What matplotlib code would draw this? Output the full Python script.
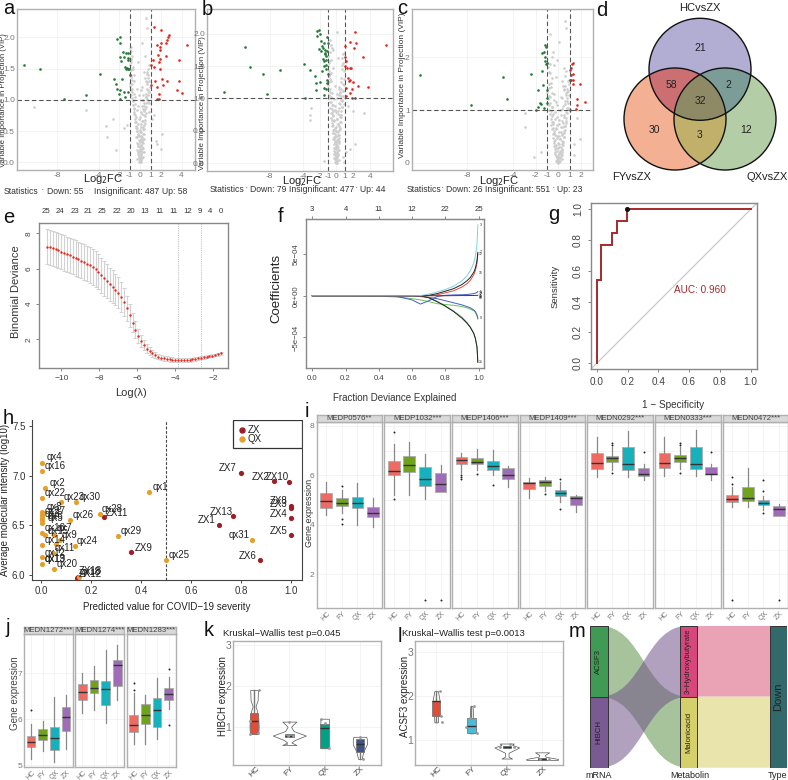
import matplotlib
matplotlib.use("Agg")
import matplotlib.pyplot as plt
import numpy as np
from matplotlib.patches import Circle, PathPatch, Polygon, Rectangle
from matplotlib.path import Path

plt.rcParams["font.family"] = ["Liberation Sans", "DejaVu Sans"]
plt.rcParams["axes.unicode_minus"] = False

W, H = 788, 780
fig = plt.figure(figsize=(W / 100, H / 100), dpi=100)

# ---- volcano data ----
down_a_x = [-11.2, -9.66, -3.86, -5.25, -7.4, -2.25, -1.93, -1.93, -1.67, -1.35, -1.13, -1.93, -1.55, -1.22, -1.87, -1.13, -1.45, -1.29, -1.13, -1.35, -1.03, -2.5, -1.77, -2.38, -1.0, -2.25, -1.93, -1.55, -1.22, -2.0, -1.45, -1.93]
down_a_y = [1.55, 1.49, 1.42, 1.08, 1.01, 1.97, 2.0, 1.91, 1.77, 1.75, 1.74, 1.69, 1.68, 1.66, 1.62, 1.64, 1.53, 1.51, 1.5, 1.49, 1.49, 1.34, 1.34, 1.26, 1.4, 1.18, 1.15, 1.13, 1.12, 1.09, 1.04, 1.01]
up_a_x = [1.38, 2.06, 2.74, 2.67, 2.58, 2.48, 2.0, 1.87, 1.6, 4.5, 1.87, 1.74, 2.48, 1.2, 1.87, 1.8, 3.77, 1.06, 1.29, 1.87, 1.42, 2.13, 2.58, 3.77, 1.03, 2.25, 1.6, 3.54, 4.0, 1.8, 1.6, 1.8]
up_a_y = [2.17, 2.11, 2.04, 2.0, 1.96, 1.91, 1.91, 1.85, 1.88, 1.87, 1.8, 1.72, 1.7, 1.64, 1.65, 1.6, 1.63, 1.56, 1.53, 1.49, 1.3, 1.34, 1.3, 1.3, 1.24, 1.24, 1.21, 1.15, 1.11, 1.09, 1.01, 1.01]
grey_a_x = [-10.3, -5.2, -2.6, -3.3, -3.2, -2.3, 2.0, 2.1, 1.5, 0.6, 0.7, 0.2, -0.1, 0.05, -0.05, 0.02, 0.1, -0.12, 0.0, 0.15, -0.08, 0.06, -0.15, 0.12, -0.03, 0.09, -0.2, 0.18, 0.03, -0.1, 0.22, -0.06, 0.0, 0.14, -0.18, 0.08, -0.25, 0.25, -0.02, 0.16, -0.14, 0.28, 0.05, -0.3, 0.2, -0.08, 0.32, -0.22, 0.12, -0.35, 0.02, 0.38, -0.28, 0.24, -0.42, 0.1, 0.45, -0.38, 0.3, -0.5, 0.0, 0.5, -0.45, 0.18, -0.55, 0.36, -0.62, 0.6, -0.2, -0.7, 0.42, 0.72, -0.66, 0.15, -0.78, 0.55, -0.85, 0.3, -0.6, 0.85, -0.9, 0.1, -0.75, 0.95, -0.95, 0.7, -1.0, 0.58, -0.82, 0.48, -0.92, 0.78, -0.96, 0.66, -0.88, 0.75, -0.7, 0.9, -0.98, 0.62, -0.86, 0.8, -0.93, 0.68, -0.76, 0.88, -1.0, 0.52, -0.9, 0.82, -0.97, 0.4, -0.84, -0.8, 0.25, -0.6, 1.3, -1.3, 1.6, 0.9, 1.1, -1.6]
grey_a_y = [0.88, 0.83, 0.7, 0.58, 0.41, 0.2, 0.22, 0.45, 0.35, 2.3, 2.15, 1.9, 0.0, 0.01, 0.02, 0.03, 0.04, 0.05, 0.06, 0.07, 0.08, 0.09, 0.11, 0.12, 0.13, 0.14, 0.16, 0.17, 0.18, 0.19, 0.21, 0.22, 0.24, 0.25, 0.27, 0.28, 0.3, 0.31, 0.33, 0.34, 0.36, 0.37, 0.38, 0.4, 0.41, 0.43, 0.45, 0.46, 0.48, 0.5, 0.52, 0.54, 0.55, 0.57, 0.59, 0.61, 0.63, 0.65, 0.67, 0.7, 0.72, 0.74, 0.76, 0.78, 0.8, 0.82, 0.85, 0.88, 0.9, 0.92, 0.95, 0.97, 1.0, 1.0, 1.03, 1.05, 1.07, 1.08, 1.1, 1.12, 1.15, 1.15, 1.18, 1.2, 1.22, 1.25, 1.27, 1.3, 1.32, 1.35, 1.37, 1.4, 1.42, 1.45, 1.47, 1.5, 1.52, 1.3, 1.55, 1.42, 1.6, 1.08, 1.65, 1.18, 1.7, 1.12, 1.75, 1.05, 1.78, 0.95, 1.82, 0.9, 1.85, 1.5, 0.85, 1.4, 0.75, 0.6, 0.3, 0.8, 0.7, 0.55]
column_a_x = [-0.3, 0.26, -0.2, 0.33, 0.1, -0.34, 0.28, -0.16, 0.04, -0.26, 0.2, -0.05, 0.36, -0.4, 0.13, -0.22, 0.42, 0.0, -0.33, 0.27, -0.44, 0.08, 0.4, -0.18, -0.5, 0.22, 0.48, -0.12, -0.38, 0.34, -0.56, 0.55, 0.06, -0.28, 0.44, -0.62, 0.16, -0.46, 0.58, -0.7, 0.3, 0.66, -0.54, -0.14, 0.52, -0.76, 0.74, -0.35, 0.2, -0.82, 0.62, -0.6, 0.8, -0.9, 0.35, -0.68, 0.86, -0.24, -0.84, 0.46]
column_a_y = [0.06, 0.09, 0.13, 0.16, 0.18, 0.2, 0.23, 0.26, 0.28, 0.31, 0.33, 0.35, 0.37, 0.4, 0.42, 0.44, 0.46, 0.48, 0.5, 0.53, 0.55, 0.57, 0.6, 0.62, 0.64, 0.66, 0.68, 0.7, 0.72, 0.75, 0.77, 0.79, 0.8, 0.83, 0.85, 0.87, 0.9, 0.93, 0.95, 0.98, 1.0, 1.02, 1.05, 1.08, 1.1, 1.12, 1.15, 1.18, 1.2, 1.25, 1.28, 1.3, 1.35, 1.4, 1.45, 1.5, 1.55, 1.6, 1.65, 1.7]

down_b_x = [-13.5, -11.0, -10.3, -8.84, -8.28, -6.8, -3.92, -3.72, -3.12, -2.52, -2.4, -2.3, -2.08, -2.0, -2.3, -1.8, -1.5, -2.08, -1.68, -1.4, -1.12, -1.8, -1.4, -1.2, -1.6, -1.28, -1.12, -1.0, -1.52, -1.68, -1.28, -1.08, -1.08, -1.92, -1.52, -1.2, -2.4, -1.52, -1.0, -1.3, -1.45, -1.62, -1.2]
down_b_y = [1.1, 1.8, 1.49, 1.37, 1.07, 1.44, 1.53, 1.01, 1.44, 1.35, 1.24, 2.04, 2.05, 1.99, 1.97, 1.89, 1.86, 1.77, 1.81, 1.75, 1.73, 1.73, 1.7, 1.65, 1.61, 1.6, 1.95, 1.86, 1.5, 1.43, 1.52, 1.29, 1.24, 1.25, 1.16, 1.14, 1.13, 1.06, 1.37, 1.68, 1.58, 1.78, 1.45]
up_b_x = [6.0, 2.28, 1.6, 2.4, 2.12, 1.08, 3.2, 1.08, 1.2, 1.08, 1.6, 1.8, 1.28, 1.4, 1.6, 2.0, 1.48, 2.6, 3.8, 1.92, 1.2, 1.68, 2.2, 1.92, 1.2]
up_b_y = [1.82, 2.03, 1.87, 1.86, 1.78, 1.81, 1.64, 1.64, 1.58, 1.5, 1.47, 1.47, 1.47, 1.32, 1.29, 1.25, 1.27, 1.19, 1.17, 1.15, 1.16, 1.09, 1.01, 1.01, 1.03]
grey_b_x = [-3.0, -3.1, -3.15, 0.9, 0.8, 2.0, 1.6, 3.3, 2.3, -1.5, 1.2, 0.1, -0.05, 0.03, -0.1, 0.06, 0.0, -0.14, 0.12, -0.04, 0.08, -0.18, 0.16, -0.02, 0.1, -0.22, 0.2, 0.02, -0.12, 0.25, -0.07, 0.14, -0.28, 0.04, -0.16, 0.3, -0.24, 0.18, -0.32, 0.07, 0.35, -0.2, -0.38, 0.24, 0.0, -0.42, 0.42, -0.1, 0.3, -0.48, 0.16, -0.54, 0.5, -0.3, 0.05, -0.6, 0.55, -0.4, 0.25, -0.66, 0.62, -0.15, -0.72, 0.68, -0.5, 0.38, -0.78, 0.72, -0.85, 0.12, -0.62, 0.78, -0.9, 0.5, -0.7, 0.85, -0.95, 0.3, -0.98, 0.9, -0.86, 0.6, -0.76, 0.95, -0.92, -0.68, -0.88, 0.66, -0.97, 0.44, -0.82, 0.8, -0.58, 0.7, -0.94, 0.92, -0.8, 0.36, -0.65, 0.58, -0.74, -0.52, 1.4, 0.98, 0.52, -0.34, 0.28, -0.44, 0.46]
grey_b_y = [0.85, 0.75, 0.67, 0.02, 0.1, 0.8, 0.22, 0.78, 0.3, 0.03, 0.18, 2.02, 0.0, 0.01, 0.02, 0.04, 0.05, 0.07, 0.08, 0.1, 0.11, 0.13, 0.14, 0.16, 0.18, 0.19, 0.2, 0.22, 0.24, 0.25, 0.27, 0.28, 0.3, 0.32, 0.34, 0.35, 0.37, 0.38, 0.4, 0.42, 0.43, 0.45, 0.47, 0.48, 0.5, 0.52, 0.53, 0.55, 0.57, 0.58, 0.6, 0.62, 0.64, 0.66, 0.68, 0.7, 0.72, 0.74, 0.76, 0.78, 0.8, 0.82, 0.85, 0.87, 0.9, 0.93, 0.95, 0.97, 1.0, 1.0, 1.02, 1.04, 1.06, 1.08, 1.1, 1.12, 1.15, 1.15, 1.2, 1.2, 1.25, 1.25, 1.3, 1.3, 1.35, 1.4, 1.42, 1.45, 1.5, 1.1, 1.55, 1.55, 1.6, 1.62, 1.65, 1.7, 1.72, 1.05, 1.82, 1.15, 1.9, 1.78, 0.88, 0.92, 0.98, 0.9, 0.85, 0.8, 0.75]
column_b_x = [0.3, -0.26, 0.18, -0.33, -0.1, 0.36, -0.24, 0.14, -0.03, 0.27, -0.2, 0.07, -0.4, 0.38, -0.13, 0.22, -0.44, 0.02, 0.33, -0.27, 0.46, -0.06, -0.42, 0.17, 0.52, -0.22, -0.5, 0.1, 0.4, -0.34, 0.58, -0.56, -0.08, 0.26, -0.46, 0.64, -0.16, 0.48, -0.6, 0.72, -0.3, -0.68, 0.54, 0.12, -0.52, 0.78, -0.74, 0.35, -0.2, 0.84, -0.64, 0.6, -0.8, 0.9, -0.36, 0.68, -0.88, 0.24, 0.82, -0.44]
column_b_y = [0.05, 0.08, 0.12, 0.15, 0.17, 0.21, 0.23, 0.25, 0.29, 0.31, 0.33, 0.36, 0.38, 0.39, 0.41, 0.44, 0.46, 0.49, 0.51, 0.52, 0.54, 0.56, 0.59, 0.61, 0.63, 0.65, 0.67, 0.69, 0.71, 0.73, 0.75, 0.77, 0.79, 0.81, 0.83, 0.86, 0.88, 0.91, 0.94, 0.96, 0.99, 1.01, 1.03, 1.07, 1.09, 1.11, 1.14, 1.17, 1.19, 1.22, 1.27, 1.32, 1.37, 1.42, 1.47, 1.52, 1.57, 1.62, 1.68, 1.74]

down_c_x = [-12.2, -4.9, -4.53, -7.69, -2.4, -1.46, -1.75, -1.17, -1.11, -1.26, -1.46, -1.17, -1.02, -1.32, -1.02, -1.02, -1.6, -1.55, -1.81, -1.96, -1.26, -1.02, -1.1, -1.15]
down_c_y = [1.66, 1.62, 1.2, 1.09, 1.69, 1.75, 1.39, 2.23, 2.19, 2.11, 2.08, 1.94, 1.9, 1.47, 1.39, 1.22, 1.13, 1.11, 1.05, 1.0, 1.03, 1.13, 1.88, 2.0]
up_c_x = [1.26, 1.23, 1.08, 1.0, 1.26, 1.08, 1.02, 1.26, 1.08, 1.32, 1.9, 1.6, 2.34, 1.6, 1.55, 1.02]
up_c_y = [1.9, 1.87, 1.79, 1.76, 1.68, 1.66, 1.58, 1.57, 1.57, 1.49, 1.49, 1.2, 1.16, 1.09, 1.01, 1.0]
grey_c_x = [-2.9, -2.95, -2.1, -1.5, 1.6, 1.4, 1.4, 1.9, 0.6, 0.7, -0.7, 0.1, -0.05, 0.08, -0.1, 0.03, 0.14, -0.15, 0.0, 0.18, -0.08, 0.1, -0.2, 0.22, -0.03, 0.25, -0.25, 0.05, 0.3, -0.12, 0.16, -0.3, 0.35, -0.02, 0.2, -0.35, 0.38, -0.18, 0.06, -0.4, 0.42, 0.28, -0.28, 0.12, -0.45, 0.46, -0.08, 0.34, -0.5, 0.5, 0.22, -0.38, 0.55, -0.55, -0.2, 0.44, 0.6, -0.62, 0.04, 0.65, -0.48, 0.3, -0.68, 0.7, -0.1, 0.52, -0.74, 0.76, -0.32, 0.18, -0.8, 0.82, -0.58, 0.4, -0.86, 0.88, -0.24, 0.6, -0.92, 0.72, -0.72, 0.92, -0.42, 0.66, -0.96, 0.5, 0.78, -0.64, 0.56, -0.84, 0.84, -0.52, 0.62, -0.76, 0.7, -0.34, 0.48, -0.9, 0.36, -0.16, 0.26, -0.6, -0.94, -0.7, 0.96, 0.74, -0.44]
grey_c_y = [0.95, 0.67, 0.1, 0.2, 0.85, 0.15, 0.35, 0.45, 2.7, 2.55, 2.45, 2.3, 0.0, 0.01, 0.02, 0.03, 0.04, 0.05, 0.07, 0.08, 0.09, 0.1, 0.12, 0.13, 0.15, 0.16, 0.17, 0.19, 0.2, 0.22, 0.23, 0.25, 0.26, 0.28, 0.3, 0.31, 0.33, 0.34, 0.36, 0.38, 0.4, 0.42, 0.43, 0.45, 0.47, 0.49, 0.5, 0.52, 0.54, 0.56, 0.58, 0.6, 0.62, 0.64, 0.66, 0.68, 0.7, 0.72, 0.74, 0.76, 0.78, 0.8, 0.82, 0.85, 0.87, 0.9, 0.92, 0.95, 0.97, 1.0, 1.0, 1.03, 1.05, 1.08, 1.1, 1.13, 1.15, 1.18, 1.2, 1.23, 1.25, 1.28, 1.3, 1.33, 1.35, 1.38, 1.4, 1.43, 1.45, 1.5, 1.55, 1.6, 1.65, 1.7, 1.75, 1.85, 1.4, 1.9, 1.55, 1.95, 1.25, 2.0, 1.82, 1.88, 1.5, 1.35, 2.1]
column_c_x = [-0.24, 0.3, -0.16, 0.28, 0.12, -0.3, 0.36, -0.2, 0.08, -0.26, 0.32, -0.04, 0.4, -0.36, 0.15, -0.14, 0.46, 0.02, -0.32, 0.34, -0.42, 0.1, 0.52, -0.22, -0.48, 0.26, 0.58, -0.1, -0.44, 0.42, -0.54, 0.64, 0.05, -0.3, 0.5, -0.6, 0.2, -0.46, 0.68, -0.66, 0.36, 0.74, -0.52, -0.12, 0.6, -0.72, 0.8, -0.34, 0.28, -0.78, 0.7, -0.58, 0.86, -0.86, 0.44, -0.66, 0.92, -0.2, -0.8, 0.54]
column_c_y = [0.04, 0.07, 0.11, 0.14, 0.18, 0.21, 0.24, 0.27, 0.29, 0.32, 0.35, 0.37, 0.39, 0.41, 0.44, 0.46, 0.48, 0.51, 0.53, 0.55, 0.57, 0.59, 0.61, 0.63, 0.65, 0.67, 0.69, 0.71, 0.73, 0.75, 0.77, 0.79, 0.81, 0.83, 0.86, 0.88, 0.91, 0.93, 0.96, 0.98, 1.01, 1.04, 1.06, 1.09, 1.11, 1.14, 1.17, 1.19, 1.22, 1.26, 1.29, 1.32, 1.37, 1.41, 1.46, 1.52, 1.58, 1.63, 1.72, 1.8]

volcano_stats = [(55, 487, 58), (79, 477, 44), (26, 551, 23)]

# ---- panel e ----
log_lambda = [-10.75, -10.6, -10.45, -10.3, -10.15, -10.0, -9.85, -9.7, -9.55, -9.4, -9.25, -9.1, -8.95, -8.8, -8.65, -8.5, -8.35, -8.2, -8.05, -7.9, -7.75, -7.6, -7.45, -7.3, -7.15, -7.0, -6.85, -6.7, -6.55, -6.4, -6.25, -6.1, -5.95, -5.8, -5.65, -5.5, -5.35, -5.2, -5.05, -4.9, -4.75, -4.6, -4.45, -4.3, -4.15, -4.0, -3.85, -3.7, -3.55, -3.4, -3.25, -3.1, -2.95, -2.8, -2.65, -2.5, -2.35, -2.2, -2.05, -1.9, -1.75, -1.6]
deviance = [7.25, 7.2, 7.15, 7.09, 7.03, 6.96, 6.89, 6.82, 6.75, 6.68, 6.6, 6.53, 6.45, 6.37, 6.29, 6.2, 6.1, 5.98, 5.83, 5.62, 5.45, 5.28, 5.12, 4.98, 4.82, 4.65, 4.4, 4.1, 3.75, 3.35, 2.95, 2.55, 2.2, 1.92, 1.68, 1.48, 1.33, 1.2, 1.1, 1.02, 0.97, 0.93, 0.9, 0.87, 0.85, 0.83, 0.82, 0.81, 0.82, 0.83, 0.85, 0.87, 0.9, 0.93, 0.96, 0.99, 1.02, 1.05, 1.08, 1.11, 1.15, 1.2]
deviance_se = [1.0, 1.0, 1.0, 1.0, 1.0, 1.0, 1.0, 1.0, 1.0, 1.0, 1.0, 1.0, 1.0, 1.0, 1.0, 1.0, 1.0, 1.0, 1.0, 1.0, 0.98, 0.96, 0.94, 0.92, 0.9, 0.88, 0.85, 0.8, 0.72, 0.65, 0.55, 0.48, 0.4, 0.33, 0.28, 0.24, 0.21, 0.19, 0.17, 0.16, 0.15, 0.15, 0.14, 0.14, 0.13, 0.13, 0.13, 0.12, 0.12, 0.12, 0.11, 0.1, 0.1, 0.09, 0.08, 0.08, 0.07, 0.07, 0.07, 0.07, 0.07, 0.07]
lambda_min, lambda_1se = -3.84, -2.63
e_top_pos = [-10.79, -10.05, -9.3, -8.58, -7.84, -7.08, -6.35, -5.6, -4.86, -4.1, -3.35, -2.72, -2.16, -1.61]
e_top_labels = ["25", "24", "23", "21", "25", "22", "20", "13", "11", "11", "12", "9", "4", "0"]

# ---- panel f ----
frac = [0.0, 0.2, 0.4, 0.5, 0.6, 0.65, 0.7, 0.75, 0.8, 0.85, 0.9, 0.93, 0.95, 0.97, 0.98, 0.99, 0.995]
coef_lightblue = [0, 0, 0, 0, 0, 0.02, 0.2, 0.45, 0.75, 1.15, 1.8, 2.4, 3.0, 3.9, 4.7, 6.2, 8.5]
coef_black1 = [0, 0, 0, 0, 0, 0, 0.05, 0.25, 0.55, 0.85, 1.35, 1.8, 2.2, 2.8, 3.3, 4.2, 5.2]
coef_red = [0, 0, 0, 0, 0, 0, 0.02, 0.1, 0.35, 0.6, 1.05, 1.45, 1.85, 2.5, 3.0, 3.9, 5.0]
coef_blue1 = [0, 0, 0, -0.03, -0.5, -1.0, -0.6, -0.1, 0.05, 0.1, 0.12, 0.15, 0.2, 0.25, 0.3, 0.4, 0.5]
coef_darkred = [0, 0, 0, 0, 0, 0, 0, 0, 0, 0.01, 0.02, 0.02, 0.03, 0.03, 0.04, 0.04, 0.05]
coef_blue2 = [0, 0, -0.02, -0.05, -0.05, -0.1, -0.2, -0.35, -0.6, -0.85, -1.1, -1.3, -1.45, -1.7, -1.9, -2.3, -2.7]
coef_green1 = [0, 0, -0.05, -0.15, -0.35, -0.5, -0.7, -0.95, -1.05, -1.15, -1.3, -1.45, -1.6, -1.8, -2.0, -2.4, -2.8]
coef_black2 = [0, 0, 0, 0, 0, 0, -0.25, -0.7, -1.25, -1.9, -2.7, -3.3, -3.8, -4.5, -5.1, -6.2, -8.0]
coef_green2 = [0, 0, 0, 0, 0, 0, -0.22, -0.7, -1.25, -1.85, -2.6, -3.2, -3.75, -4.5, -5.1, -6.1, -7.9]
f_top_labels = ["3", "4", "11", "12", "22", "25"]
f_end_y = [8.5, 5.2, 5.0, 2.7, -2.7, -8.0, 0.5, 0.3, 0.15, 0.0, -0.15, -0.3]
f_end_labels = ["3", "7", "12", "15", "9", "21", "5", "18", "2", "11", "24", "16"]

# ---- panel g ----
roc_fpr = [0.0, 0.0, 0.03, 0.03, 0.1, 0.1, 0.13, 0.13, 0.195, 0.195, 1.0]
roc_tpr = [0.0, 0.54, 0.54, 0.77, 0.77, 0.845, 0.845, 0.925, 0.925, 1.0, 1.0]

# ---- panel h ----
zx_names = ["ZX7", "ZX2", "ZX10", "ZX8", "ZX3", "ZX4", "ZX5", "ZX13", "ZX1", "ZX6", "ZX9", "ZX11", "ZX12", "ZX18"]
zx_pred = [0.798, 0.93, 0.99, 1.0, 1.0, 1.0, 0.998, 0.768, 0.71, 0.876, 0.36, 0.252, 0.143, 0.147]
zx_int = [7.03, 6.946, 6.94, 6.69, 6.67, 6.57, 6.4, 6.59, 6.505, 6.145, 6.23, 6.58, 5.97, 5.98]
zx_off = [(-21.7, 4.7), (-21.7, 4.3), (-23, 4.7), (-21, 5), (-21, 4), (-21, 4), (-21, 4.3), (-23, 4.3), (-21, 4.3), (-21, 4.3), (3.7, 4.3), (1.7, 4.3), (2, 4), (1, 5.7)]
qx_names = ["qx4", "qx16", "qx2", "qx22", "qx1", "qx23", "qx30", "qx28", "qx26", "qx8", "qx27", "qx3", "qx6", "qx5", "qx29", "qx31", "qx25", "qx24", "qx10", "qx15", "qx14", "qx7", "qx9", "qx11", "qx12", "qx19", "qx13", "qx20", "qx18"]
qx_pred = [0.004, 0.004, 0.015, 0.004, 0.43, 0.081, 0.139, 0.236, 0.117, 0.004, 0.004, 0.004, 0.004, 0.004, 0.308, 0.843, 0.499, 0.135, 0.004, 0.017, 0.004, 0.052, 0.075, 0.061, 0.048, 0.004, 0.004, 0.052, 0.15]
qx_int = [7.125, 7.05, 6.87, 6.775, 6.83, 6.735, 6.737, 6.616, 6.55, 6.63, 6.6, 6.57, 6.55, 6.52, 6.387, 6.354, 6.15, 6.29, 6.424, 6.4, 6.3, 6.4, 6.35, 6.306, 6.222, 6.175, 6.104, 6.054, 5.98]
qx_off = [(4.3, 6), (2, 5), (4.3, 5), (2, 4.7), (4.3, 5.3), (1.7, 5.3), (3.3, 5), (1.3, 4.7), (2, 5), (4.3, 5.7), (2, 4.3), (2, 4), (5, 3.7), (5, 5), (2.3, 5), (-23, 5), (2.3, 5.3), (1.7, 5), (2, 4.7), (2, 4.3), (2, 5), (2.3, 6.7), (1.7, 5), (-1.7, -3.3), (-9, 0), (2, -2), (2, 5), (2.3, 5.7), (0.7, 5)]

# ---- panels i, j: box statistics per facet, each list is HC, FY, QX, ZX ----
groups = ["HC", "FY", "QX", "ZX"]
i_names = ["MEDP0576**", "MEDP1032***", "MEDP1406***", "MEDP1409***", "MEDN0292***", "MEDN0333***", "MEDN0472***"]
i_q1 = [[4.7, 4.78, 4.67, 4.33], [6.0, 6.13, 5.56, 5.34], [6.45, 6.45, 6.23, 5.87], [5.45, 5.57, 5.17, 4.81], [6.27, 6.53, 6.21, 5.99], [6.29, 6.56, 6.25, 6.05], [4.91, 4.97, 4.79, 4.36]]
i_med = [[4.97, 4.9, 4.9, 4.47], [6.19, 6.41, 5.84, 5.67], [6.61, 6.56, 6.37, 6.02], [5.68, 5.74, 5.29, 5.08], [6.49, 6.69, 6.45, 6.06], [6.52, 6.69, 6.45, 6.07], [5.05, 5.1, 4.9, 4.63]]
i_q3 = [[5.28, 5.08, 5.14, 4.71], [6.6, 6.77, 6.33, 6.09], [6.73, 6.71, 6.58, 6.29], [5.75, 5.8, 5.41, 5.17], [6.89, 6.8, 7.14, 6.29], [6.91, 6.81, 7.14, 6.33], [5.2, 5.52, 5.0, 4.77]]
i_lo = [[4.4, 4.47, 4.0, 3.93], [5.2, 5.2, 5.03, 5.34], [6.11, 6.22, 6.03, 5.55], [5.08, 5.37, 4.94, 4.54], [5.95, 6.22, 5.95, 5.82], [5.98, 6.25, 5.99, 5.82], [4.71, 4.74, 4.6, 4.36]]
i_hi = [[5.75, 5.39, 5.68, 5.08], [7.27, 7.34, 6.85, 6.42], [6.92, 7.06, 7.02, 6.38], [5.88, 5.95, 5.72, 5.21], [7.54, 7.16, 7.81, 6.45], [7.54, 7.16, 7.84, 6.45], [5.55, 6.29, 5.17, 4.83]]
i_out = [[[], [5.59, 4.23, 4.02], [], []],
         [[7.74, 5.06], [], [0.96], [0.96]],
         [[6.02, 5.95, 5.87], [6.06], [5.63], []],
         [[], [5.25], [5.86, 4.66], []],
         [[], [7.3, 7.23, 6.09], [], [6.94]],
         [[], [7.3, 7.23, 6.09], [], [6.94]],
         [[5.92, 5.64, 0.96], [], [5.8, 5.35, 4.47], [0.96]]]
j_names = ["MEDN1272***", "MEDN1274***", "MEDN1283***"]
j_q1 = [[5.4, 5.55, 5.34, 5.74], [6.41, 6.57, 6.31, 6.72], [5.73, 5.9, 5.84, 6.42]]
j_med = [[5.5, 5.67, 5.59, 6.06], [6.59, 6.69, 6.66, 7.17], [5.87, 6.1, 6.2, 6.56]]
j_q3 = [[5.64, 5.78, 5.83, 6.27], [6.76, 6.85, 6.83, 7.28], [6.09, 6.34, 6.46, 6.68]]
j_lo = [[5.15, 5.32, 5.08, 5.36], [6.14, 6.2, 5.92, 6.41], [5.46, 5.46, 5.57, 6.23]]
j_hi = [[5.89, 5.97, 6.48, 6.52], [7.0, 7.16, 7.5, 7.62], [6.57, 6.53, 6.9, 6.92]]
j_out = [[[6.2], [], [], []], [[], [], [], []], [[6.79, 6.64], [], [], [7.09, 5.87]]]

# ---- panels k, l ----
k_q1 = [0.83, 0.75, 0.48, 0.40]
k_med = [1.15, 0.79, 0.98, 0.58]
k_q3 = [1.35, 0.83, 1.06, 0.71]
k_lo = [0.83, 0.75, 0.48, 0.22]
k_hi = [1.9, 0.83, 1.06, 0.76]
k_viol_y = [[0.83, 1.0, 1.2, 1.4, 1.5, 1.65, 1.9], [0.56, 0.62, 0.68, 0.79, 0.9, 1.0, 1.05, 1.13], [0.48, 0.7, 0.9, 1.05, 1.2], [0.22, 0.4, 0.58, 0.7, 0.76]]
k_viol_w = [[0.12, 0.13, 0.12, 0.08, 0.04, 0.1, 0.11], [0.2, 0.06, 0.15, 0.47, 0.12, 0.05, 0.1, 0.2], [0.1, 0.08, 0.1, 0.12, 0.12], [0.05, 0.1, 0.2, 0.2, 0.18]]
k_dots_x = [0.87, 1.15, 0.87, 1.1, 1.95, 2.1, 2.0, 1.9, 2.9, 3.12, 3.0, 4.1, 4.0]
k_dots_y = [1.15, 1.9, 0.83, 0.85, 0.79, 0.79, 1.13, 0.58, 1.2, 0.48, 1.1, 0.22, 0.76]
l_q1 = [1.55, 1.16, 0.83, 0.56]
l_med = [1.89, 1.32, 0.86, 0.585]
l_q3 = [1.9, 1.5, 0.88, 0.61]
l_lo = [1.41, 1.16, 0.83, 0.56]
l_hi = [2.12, 1.78, 0.88, 0.61]
l_viol_y = [[1.41, 1.6, 1.9, 2.12], [1.16, 1.3, 1.5, 1.78], [0.59, 0.63, 0.72, 0.84, 0.9, 0.93], [0.56, 0.58, 0.63, 0.67, 0.73]]
l_viol_w = [[0.05, 0.06, 0.1, 0.05], [0.06, 0.08, 0.05, 0.03], [0.15, 0.05, 0.05, 0.35, 0.15, 0.2], [0.45, 0.45, 0.1, 0.08, 0.2]]
l_dots_x = [1.1, 1.15, 1.18, 1.85, 2.17, 1.95, 2.08, 2.8, 3.1, 3.2, 3.95, 4.2]
l_dots_y = [2.12, 1.55, 1.41, 1.3, 1.16, 1.5, 1.78, 0.86, 0.92, 0.84, 0.58, 0.58]

# ---- panel m ----
mrna = ["ACSF3", "HIBCH"]
metabolites = ["3−Hydroxybutyrate", "Malonicacid"]
flow_targets = [1, 0]  # ACSF3 -> Malonicacid, HIBCH -> 3-Hydroxybutyrate


def px_axes(x0, y0, x1, y1):
    return fig.add_axes([x0 / W, 1 - y1 / H, (x1 - x0) / W, (y1 - y0) / H])


def px_text(x, y, s, **kw):
    kw.setdefault("ha", "center")
    kw.setdefault("va", "center")
    fig.text(x / W, 1 - y / H, s, **kw)


def gg_axes(ax, edge="#b0b0b0"):
    for sp in ax.spines.values():
        sp.set_color(edge)
        sp.set_linewidth(1.0)
    ax.grid(True, color="#efefef", lw=0.5)
    ax.set_axisbelow(True)
    ax.tick_params(length=0, labelsize=6, labelcolor="#777777", pad=1.5)


def volcano(box, xlim, ylim, xticks, yticks, ylabels, gx, gy, dx, dy, ux, uy):
    ax = px_axes(*box)
    gg_axes(ax)
    ax.set_xlim(xlim)
    ax.set_ylim(ylim)
    ax.scatter(gx, gy, s=3.5, color="#cdcdcd", linewidths=0)
    ax.scatter(dx, dy, s=3.5, color="#1c7a32", linewidths=0)
    ax.scatter(ux, uy, s=3.5, color="#e2261c", linewidths=0)
    for v in [-1, 1]:
        ax.axvline(v, color="#555555", lw=0.8, ls=(0, (4, 2.5)))
    ax.axhline(1, color="#555555", lw=0.8, ls=(0, (4, 2.5)))
    ax.set_xticks(xticks)
    ax.set_yticks(yticks)
    ax.set_yticklabels(ylabels)
    return ax


volcano((17, 9, 195, 170), (-11.9, 5.3), (-0.12, 2.45), [-8, -4, -2, -1, 0, 1, 2, 4], [0, 0.5, 1, 1.5, 2],
        ["0.0", "0.5", "1.0", "1.5", "2.0"], grey_a_x + column_a_x, grey_a_y + column_a_y, down_a_x, down_a_y, up_a_x, up_a_y)
volcano((207, 9, 393, 171), (-15.5, 6.8), (-0.12, 2.38), [-8, -4, -2, -1, 0, 1, 2, 4], [0, 0.5, 1, 1.5, 2],
        ["0.0", "0.5", "1.0", "1.5", "2.0"], grey_b_x + column_b_x, grey_b_y + column_b_y, down_b_x, down_b_y, up_b_x, up_b_y)
volcano((411.7, 9, 593, 170), (-12.9, 3.05), (-0.14, 2.92), [-8, -4, -2, -1, 0, 1, 2], [0, 1, 2],
        ["0", "1", "2"], grey_c_x + column_c_x, grey_c_y + column_c_y, down_c_x, down_c_y, up_c_x, up_c_y)

for x, y, fs in [(4, 100, 5.6), (202, 103, 5.6), (402, 85, 6.0)]:
    px_text(x, y, "Variable Importance in Projection (VIP)", rotation=90, fontsize=fs, color="#333333")
for x, y in [(103, 179), (302, 181), (499, 181)]:
    px_text(x, y, "Log$_2$FC", fontsize=8, color="#222222")
stat_rows = [(191, 4, 47, 94, 162, 43, 90, 157, 0), (189, 210, 250, 289, 360, 247, 286, 357, 1), (189, 407, 446, 485, 557, 443, 482, 554, 2)]
for y, x0, x1, x2, x3, d1, d2, d3, k in stat_rows:
    n_down, n_ins, n_up = volcano_stats[k]
    px_text(x0, y, "Statistics", ha="left", fontsize=6.2, color="#333333")
    px_text(x1, y, f"Down: {n_down}", ha="left", fontsize=6.2, color="#333333")
    px_text(x2, y, f"Insignificant: {n_ins}", ha="left", fontsize=6.2, color="#333333")
    px_text(x3, y, f"Up: {n_up}", ha="left", fontsize=6.2, color="#333333")
    px_text(d1, y, "•", fontsize=3, color="#1c7a32")
    px_text(d2, y, "•", fontsize=3, color="#c9c9c9")
    px_text(d3, y, "•", fontsize=3, color="#e2261c")

# ---- venn ----
ax = px_axes(600, 0, 788, 190)
ax.set_xlim(600, 788)
ax.set_ylim(190, 0)
ax.axis("off")
c_top, c_left, c_right = (700, 69.3), (675, 119), (725, 119)
r = 51
top = Circle(c_top, r, fc="#b1add3", ec="none")
left = Circle(c_left, r, fc="#f4b093", ec="none")
right = Circle(c_right, r, fc="#b3cda6", ec="none")
for p in [top, left, right]:
    ax.add_patch(p)
for center, clip, col in [(c_left, top, "#cb6f72"), (c_right, top, "#7c9c98"), (c_right, left, "#c0b06a")]:
    p = Circle(center, r, fc=col, ec="none")
    ax.add_patch(p)
    p.set_clip_path(clip)
# the three-way region, built from the circle arcs lying inside the other two
t = np.linspace(0, 2 * np.pi, 720)
pts = []
centers = [c_top, c_left, c_right]
for i, c in enumerate(centers):
    arc = np.column_stack([c[0] + r * np.cos(t), c[1] + r * np.sin(t)])
    keep = np.ones(len(arc), bool)
    for j, o in enumerate(centers):
        if j != i:
            keep &= np.hypot(arc[:, 0] - o[0], arc[:, 1] - o[1]) <= r
    pts.append(arc[keep])
pts = np.vstack(pts)
mid = pts.mean(axis=0)
pts = pts[np.argsort(np.arctan2(pts[:, 1] - mid[1], pts[:, 0] - mid[0]))]
ax.add_patch(Polygon(pts, fc="#8f8a66", ec="none"))
for c in centers:
    ax.add_patch(Circle(c, r, fc="none", ec="#111111", lw=1.0))
venn_counts = ["21", "58", "2", "32", "30", "3", "12"]
venn_pos = [(700, 48), (671, 85), (728, 85), (700, 101), (654, 130), (700, 135), (746, 130)]
for s, (x, y) in zip(venn_counts, venn_pos):
    ax.text(x, y, s, fontsize=7.5, ha="center", va="center", color="#222222")
for s, (x, y) in zip(["HCvsZX", "FYvsZX", "QXvsZX"], [(700, 8), (632, 177), (767, 177)]):
    ax.text(x, y, s, fontsize=8, ha="center", va="center", color="#222222")


def r_axes(ax):
    for sp in ax.spines.values():
        sp.set_color("#888888")
        sp.set_linewidth(1.0)
    ax.tick_params(labelsize=6, labelcolor="#444444", color="#888888", length=2.5, width=0.7, pad=2)
    plt.setp(ax.get_yticklabels(), rotation=90, va="center")


# ---- e ----
ax = px_axes(39.3, 223.3, 227.7, 368.3)
ax.set_xlim(-11.16, -1.24)
ax.set_ylim(0.36, 8.57)
ax.errorbar(log_lambda, deviance, yerr=deviance_se, fmt="none", ecolor="#d2d2d2", elinewidth=0.8, capsize=1.4, capthick=0.7)
ax.scatter(log_lambda, deviance, s=3, color="#e8281c", linewidths=0, zorder=3)
for v in [lambda_min, lambda_1se]:
    ax.axvline(v, color="#888888", lw=0.5, ls=":")
ax.set_xticks([-10, -8, -6, -4, -2])
ax.set_yticks([2, 4, 6, 8])
r_axes(ax)
ax.set_xticklabels(["−10", "−8", "−6", "−4", "−2"])
for x, s in zip(e_top_pos, e_top_labels):
    ax.annotate(s, (x, 1), xycoords=("data", "axes fraction"), xytext=(0, 8.4), textcoords="offset points",
                ha="center", va="center", fontsize=5.6, color="#333333")
px_text(131, 393.5, "Log(λ)", fontsize=8, color="#333333")
px_text(16, 292, "Binomial Deviance", fontsize=8, rotation=90, color="#333333")

# ---- f ----
ax = px_axes(306, 219, 484, 368.3)
ax.set_xlim(-0.038, 1.032)
ax.set_ylim(-8.7e-4, 9.2e-4)
f_curves = [(coef_green1, "#6fc25a"), (coef_blue2, "#3f62c8"), (coef_blue1, "#3f62c8"), (coef_green2, "#53b848"),
            (coef_black2, "#222222"), (coef_red, "#e84a3a"), (coef_black1, "#222222"), (coef_darkred, "#8b1a2b"),
            (coef_lightblue, "#7fd3e0")]
for vals, col in f_curves:
    ax.plot(frac, np.array(vals) * 1e-4, color=col, lw=0.7)
for v, s in zip(f_end_y, f_end_labels):
    ax.text(1.012, v * 1e-4, s, fontsize=2.5, ha="center", va="center", color="#222222")
ax.set_xticks([0, 0.2, 0.4, 0.6, 0.8, 1.0])
ax.set_yticks([-5e-4, 0, 5e-4])
r_axes(ax)
ax.set_xticklabels(["0.0", "0.2", "0.4", "0.6", "0.8", "1.0"], fontsize=5.6)
ax.set_yticklabels(["−5e−04", "0e+00", "5e−04"], fontsize=5.6)
top_ax = ax.secondary_xaxis("top")
top_ax.set_xticks([0, 0.2, 0.4, 0.6, 0.8, 1.0])
top_ax.set_xticklabels(f_top_labels, fontsize=5.6, color="#333333")
top_ax.tick_params(length=2.5, width=0.7, color="#888888", pad=2)
top_ax.spines["top"].set_color("#888888")
px_text(395, 398, "Fraction Deviance Explained", fontsize=7, color="#333333")
px_text(276, 288, "Coefficients", fontsize=9.5, rotation=90, color="#222222")

# ---- g ----
ax = px_axes(590.7, 203.3, 756.7, 369.3)
ax.set_xlim(-0.039, 1.039)
ax.set_ylim(-0.039, 1.039)
ax.plot([-0.039, 1.039], [-0.039, 1.039], color="#c4c4c4", lw=0.8)
ax.plot(roc_fpr, roc_tpr, color="#a52a2a", lw=1.4, solid_joinstyle="miter")
ax.plot([roc_fpr[-2]], [roc_tpr[-2]], "o", color="#111111", ms=2.6)
ax.text(0.5, 0.475, "AUC: 0.960", color="#a52a2a", fontsize=7.2, va="center")
ax.set_xticks([0, 0.2, 0.4, 0.6, 0.8, 1.0])
ax.set_yticks([0, 0.2, 0.4, 0.6, 0.8, 1.0])
r_axes(ax)
ax.tick_params(labelsize=7.2, pad=3)
ax.set_xticklabels(["0.0", "0.2", "0.4", "0.6", "0.8", "1.0"])
ax.set_yticklabels(["0.0", "0.2", "0.4", "0.6", "0.8", "1.0"])
px_text(555, 286, "Sensitivity", fontsize=6.8, rotation=90, color="#333333")
px_text(673, 405, "1 − Specificity", fontsize=7.2, color="#333333")

# ---- h ----
ax = px_axes(31.7, 420, 301.7, 580)
ax.set_xlim(-0.038, 1.042)
ax.set_ylim(5.947, 7.56)
ax.axvline(0.5, color="#444444", lw=0.8, ls=(0, (2.5, 1.5)))
ax.scatter(zx_pred, zx_int, s=14, color="#9c1f28", linewidths=0, zorder=3)
ax.scatter(qx_pred, qx_int, s=14, color="#e5a02c", linewidths=0, zorder=3)
for names, xs, ys, offs in [(zx_names, zx_pred, zx_int, zx_off), (qx_names, qx_pred, qx_int, qx_off)]:
    for s, x, y, off in zip(names, xs, ys, offs):
        ax.annotate(s, (x, y), xytext=off, textcoords="offset pixels", fontsize=7, color="#222222",
                    ha="left", va="center", zorder=4)
ax.spines["top"].set_visible(False)
for sp in ["left", "bottom", "right"]:
    ax.spines[sp].set_color("#444444")
    ax.spines[sp].set_linewidth(0.8)
ax.set_xticks([0, 0.2, 0.4, 0.6, 0.8, 1.0])
ax.set_yticks([6, 6.5, 7, 7.5])
ax.set_xticklabels(["0.0", "0.2", "0.4", "0.6", "0.8", "1.0"])
ax.set_yticklabels(["6.0", "6.5", "7.0", "7.5"])
ax.tick_params(labelsize=7, labelcolor="#333333", color="#444444", length=2.5, width=0.7, pad=2)
ax.add_patch(Rectangle((0.747, 0.823), 0.253, 0.177, transform=ax.transAxes, fc="white", ec="#333333", lw=0.9, zorder=5))
for yy, col, s in [(0.9375, "#9c1f28", "ZX"), (0.88, "#e5a02c", "QX")]:
    ax.plot([0.78], [yy], "o", ms=3.6, color=col, transform=ax.transAxes, zorder=6)
    ax.text(0.8, yy, s, transform=ax.transAxes, fontsize=7, va="center", zorder=6, color="#222222")
px_text(5.5, 500, "Average molecular intensity (log10)", fontsize=7, rotation=90, color="#222222")
px_text(167, 607.5, "Predicted value for COVID−19 severity", fontsize=7, color="#222222")

# ---- i, j boxplot facets ----
box_colors = ["#ee6a62", "#6fa31c", "#17b1bd", "#a06cb8"]


def facet(box, strip_h, name, ylim, q1, med, q3, lo, hi, out, yticks=None):
    ax = px_axes(*box)
    gg_axes(ax)
    ax.set_xlim(0.4, 4.6)
    ax.set_ylim(ylim)
    stats = [dict(q1=a, med=b, q3=c, whislo=d, whishi=e, fliers=f) for a, b, c, d, e, f in zip(q1, med, q3, lo, hi, out)]
    bp = ax.bxp(stats, positions=[1, 2, 3, 4], widths=0.75, patch_artist=True, showcaps=False,
                flierprops=dict(marker="o", ms=1.4, mfc="#222222", mec="none"),
                whiskerprops=dict(color="#888888", lw=0.9),
                medianprops=dict(color="#333333", lw=1.0),
                boxprops=dict(edgecolor="#b0b0b0", lw=0.7))
    for patch, col in zip(bp["boxes"], box_colors):
        patch.set_facecolor(col)
    ax.set_xticks([1, 2, 3, 4])
    ax.set_xticklabels(groups, rotation=45, ha="center", va="top", fontsize=5)
    if yticks:
        ax.set_yticks(yticks)
    else:
        ax.set_yticks(list(range(2, 9)) if ylim[1] > 7.9 else [5, 6, 7])
        ax.tick_params(axis="y", labelleft=False)
    x0, y0, x1, y1 = box
    st = px_axes(x0, y0 - strip_h, x1, y0)
    st.set_xticks([])
    st.set_yticks([])
    st.set_facecolor("#d9d9d9")
    for sp in st.spines.values():
        sp.set_color("#b0b0b0")
        sp.set_linewidth(1.0)
    st.text(0.5, 0.5, name, ha="center", va="center", fontsize=5.6, color="#444444", transform=st.transAxes)
    return ax


i_left = [316.7, 384.3, 452, 519.7, 587.3, 655, 722.7]
for k in range(7):
    x0 = i_left[k]
    facet((x0, 421.7, x0 + 65.7, 608), 7, i_names[k], (0.64, 8.17), i_q1[k], i_med[k], i_q3[k], i_lo[k], i_hi[k], i_out[k],
          yticks=[2, 4, 6, 8] if k == 0 else None)
px_text(309, 513, "Gene expression", fontsize=6.5, rotation=90, color="#333333")

j_left = [24, 75.3, 126.7]
for k in range(3):
    x0 = j_left[k]
    facet((x0, 634, x0 + 49, 767.3), 7.3, j_names[k], (4.96, 7.85), j_q1[k], j_med[k], j_q3[k], j_lo[k], j_hi[k], j_out[k],
          yticks=[5, 6, 7] if k == 0 else None)
px_text(15, 693, "Gene expression", fontsize=7, rotation=90, color="#444444")

# ---- k, l ----
viol_colors_k = ["#e64b35", "#4dbbd5", "#00a087", "#3c5488"]


def violin_box(box, ylim, title, ylab, q1, med, q3, lo, hi, vy, vw, dx, dy, yticks, ylab_x):
    ax = px_axes(*box)
    gg_axes(ax)
    ax.set_xlim(0.41, 4.6)
    ax.set_ylim(ylim)
    for i in range(4):
        yy = np.array(vy[i])
        ww = np.array(vw[i])
        ax.fill_betweenx(yy, i + 1 - ww, i + 1 + ww, facecolor="white", edgecolor="#555555", lw=0.5, zorder=2)
    stats = [dict(q1=a, med=b, q3=c, whislo=d, whishi=e, fliers=[]) for a, b, c, d, e in zip(q1, med, q3, lo, hi)]
    bp = ax.bxp(stats, positions=[1, 2, 3, 4], widths=0.24, patch_artist=True, showcaps=False, zorder=3,
                whiskerprops=dict(color="#777777", lw=1.0),
                medianprops=dict(color="#333333", lw=1.0),
                boxprops=dict(edgecolor="#777777", lw=0.6))
    for patch, col in zip(bp["boxes"], viol_colors_k):
        patch.set_facecolor(col)
    ax.scatter(dx, dy, s=4, color="#999999", linewidths=0, zorder=4)
    ax.set_xticks([1, 2, 3, 4])
    ax.set_xticklabels(groups, rotation=45, fontsize=6, color="#444444")
    ax.tick_params(axis="x", pad=0)
    ax.set_yticks(yticks)
    ax.tick_params(axis="y", labelsize=7.5)
    px_text(box[0] + 48, 633, title, fontsize=6.8, color="#222222")
    px_text(ylab_x, 696, ylab, fontsize=7, rotation=90, color="#222222")


violin_box((233.3, 640.7, 381, 764.7), (0.08, 3.1), "Kruskal−Wallis test p=0.045", "HIBCH expression", k_q1, k_med, k_q3, k_lo, k_hi,
           k_viol_y, k_viol_w, k_dots_x, k_dots_y, [1, 2, 3], 222.5)
violin_box((415.3, 640.7, 563.3, 764.7), (0.45, 3.26), "Kruskal−Wallis test p=0.0013", "ACSF3 expression", l_q1, l_med, l_q3, l_lo, l_hi,
           l_viol_y, l_viol_w, l_dots_x, l_dots_y, [1, 2, 3], 405)

# ---- m alluvial ----
ax = px_axes(590, 625.7, 787.3, 767.7)
col_w = 0.197
ax.set_xlim(1 - col_w / 2, 3 + col_w / 2)
ax.set_ylim(2, 0)
ax.axis("off")


def ribbon(x0, x1, a0, a1, b0, b1, color, alpha):
    mx = (x0 + x1) / 2
    verts = [(x0, a0), (mx, a0), (mx, b0), (x1, b0), (x1, b1), (mx, b1), (mx, a1), (x0, a1), (x0, a0)]
    codes = [Path.MOVETO, Path.CURVE4, Path.CURVE4, Path.CURVE4, Path.LINETO, Path.CURVE4, Path.CURVE4, Path.CURVE4, Path.CLOSEPOLY]
    ax.add_patch(PathPatch(Path(verts, codes), fc=color, ec="none", alpha=alpha))


ribbon(1, 2, 0, 1, flow_targets[0], flow_targets[0] + 1, "#5d9349", 0.55)
ribbon(1, 2, 1, 2, flow_targets[1], flow_targets[1] + 1, "#71528a", 0.55)
ribbon(2, 3, 0, 1, 0, 1, "#e9a3b5", 1)
ribbon(2, 3, 1, 2, 1, 2, "#e8e4ac", 1)
node_rows = [(1, 0, "#3f9a53", mrna[0]), (1, 1, "#7a5a93", mrna[1]), (2, 0, "#d8477c", metabolites[0]), (2, 1, "#d6d06a", metabolites[1])]
for x, y, col, s in node_rows:
    ax.add_patch(Rectangle((x - col_w / 2, y), col_w, 1, fc=col, ec="#333333", lw=0.7))
    ax.text(x, y + 0.5, s, rotation=90, ha="center", va="center", fontsize=5.6, color="#222222")
ax.add_patch(Rectangle((3 - col_w / 2, 0), col_w, 2, fc="#32696a", ec="#333333", lw=0.7))
ax.text(3, 1, "Down", rotation=90, ha="center", va="center", fontsize=8, color="#222222")
for x, s in [(599, "mRNA"), (690, "Metabolin"), (778, "Type")]:
    px_text(x, 775, s, fontsize=6.5, color="#222222")

# ---- panel letters, left edge and baseline ----
letters = [("a", 3, 14), ("b", 202, 15), ("c", 397, 14), ("d", 596, 16), ("e", 3, 222.7), ("f", 278, 221.7), ("g", 548, 220),
           ("h", 3, 424), ("i", 305, 416.7), ("j", 5, 633), ("k", 204, 635.7), ("l", 398, 641.7), ("m", 569, 636.7)]
for s, x, y in letters:
    px_text(x, y, s, fontsize=14.5, color="#111111", ha="left", va="baseline")

fig.savefig("out.png", dpi=100)
